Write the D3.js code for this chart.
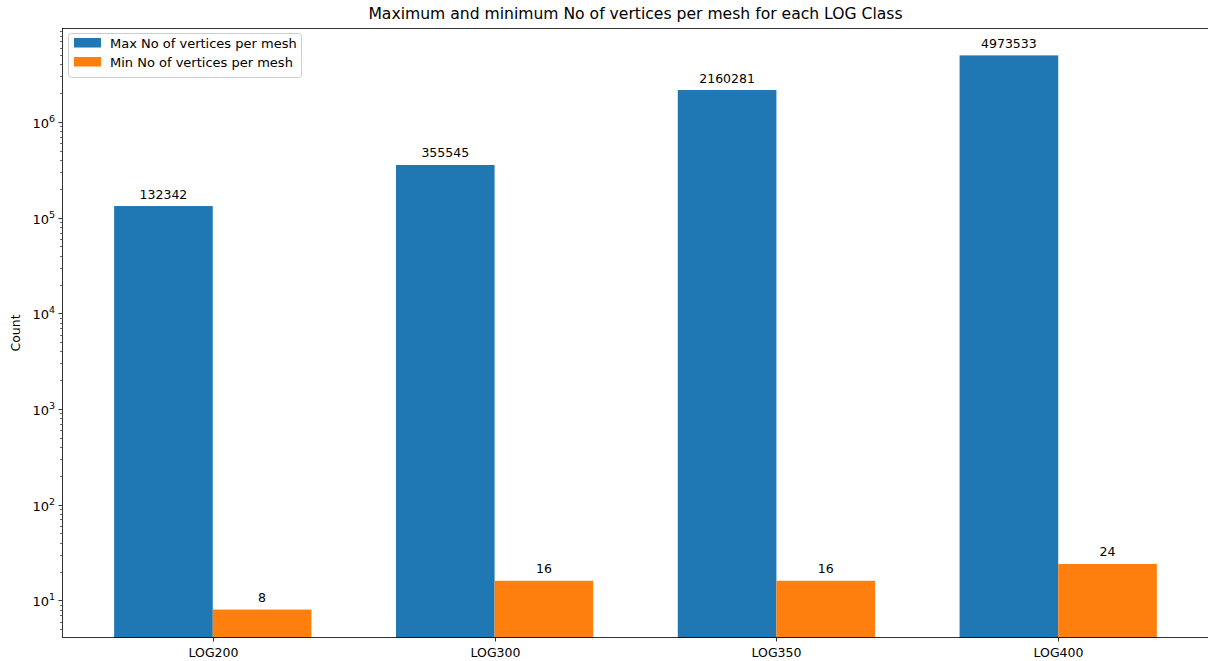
<!DOCTYPE html>
<html>
<head>
<meta charset="utf-8">
<script src="https://cdn.jsdelivr.net/npm/d3@7"></script>
<style>
  body { margin: 0; background: #fff; }
  svg { display: block; font-family: "DejaVu Sans", sans-serif; }
</style>
</head>
<body>
<div id="chart"></div>
<script>
// data
var categories = ["LOG200", "LOG300", "LOG350", "LOG400"];
var maxVertices = [132342, 355545, 2160281, 4973533];
var minVertices = [8, 16, 16, 24];
var seriesNames = ["Max No of vertices per mesh", "Min No of vertices per mesh"];
var decades = [1, 2, 3, 4, 5, 6];

var width = 1208, height = 661;
var axL = 62, axR = 1209, axT = 28, axB = 638;
var barW = 0.35;

var svg = d3.select("#chart").append("svg")
  .attr("width", width).attr("height", height);

var x = d3.scaleLinear().domain([-0.535, 3.535]).range([axL, axR]);
var y = d3.scaleLog().domain([Math.pow(10, 0.606), Math.pow(10, 6.983)]).range([axB, axT]);

var plot = svg.append("g");
plot.append("clipPath").attr("id", "clip")
  .append("rect").attr("x", axL).attr("y", axT).attr("width", axR - axL).attr("height", axB - axT);

var bars = plot.append("g").attr("clip-path", "url(#clip)");
var series = [
  { name: seriesNames[0], values: maxVertices, off: -barW / 2, color: "#1f77b4" },
  { name: seriesNames[1], values: minVertices, off: barW / 2, color: "#ff7f0e" }
];

series.forEach(function(s) {
  bars.selectAll(null).data(s.values).enter().append("rect")
    .attr("x", function(d, i) { return x(i + s.off - barW / 2); })
    .attr("width", x(barW) - x(0))
    .attr("y", function(d) { return y(d); })
    .attr("height", function(d) { return axB - y(d); })
    .attr("fill", s.color);

  plot.selectAll(null).data(s.values).enter().append("text")
    .attr("x", function(d, i) { return x(i + s.off); })
    .attr("y", function(d) { return y(d) - 7.5; })
    .attr("text-anchor", "middle")
    .attr("font-size", "12.5px")
    .attr("fill", "#000")
    .text(function(d) { return d; });
});

// y ticks: minor
var minors = [];
for (var e = 0; e <= 6; e++) {
  for (var m = 2; m <= 9; m++) {
    var v = m * Math.pow(10, e);
    if (v >= y.domain()[0] && v <= y.domain()[1]) minors.push(v);
  }
}
plot.selectAll(".minor").data(minors).enter().append("line")
  .attr("x1", axL - 2).attr("x2", axL)
  .attr("y1", function(d) { return Math.round(y(d)) + 0.5; })
  .attr("y2", function(d) { return Math.round(y(d)) + 0.5; })
  .attr("stroke", "#000").attr("stroke-width", 0.6);

// y ticks: major
var major = plot.selectAll(".major").data(decades).enter().append("g")
  .attr("transform", function(d) { return "translate(0," + (Math.round(y(Math.pow(10, d))) + 0.5) + ")"; });
major.append("line").attr("x1", axL - 3.5).attr("x2", axL).attr("stroke", "#000").attr("stroke-width", 0.8);
var lbl = major.append("text")
  .attr("x", axL - 7).attr("y", 5)
  .attr("text-anchor", "end")
  .attr("font-size", "13px").attr("fill", "#000");
lbl.append("tspan").text("10");
lbl.append("tspan").attr("dy", -6).attr("font-size", "9.5px").text(function(d) { return d; });

// x ticks
var xt = plot.selectAll(".xt").data(categories).enter().append("g")
  .attr("transform", function(d, i) { return "translate(" + (Math.round(x(i)) + 0.5) + "," + axB + ")"; });
xt.append("line").attr("y1", 0).attr("y2", 3.5).attr("stroke", "#000").attr("stroke-width", 0.8);
xt.append("text").attr("y", 19).attr("text-anchor", "middle")
  .attr("font-size", "12.5px").attr("fill", "#000").text(function(d) { return d; });

// spines
plot.append("rect")
  .attr("x", axL + 0.5).attr("y", axT + 0.5)
  .attr("width", axR - axL - 1).attr("height", axB - axT - 1)
  .attr("fill", "none").attr("stroke", "#000").attr("stroke-width", 0.8);

// title and axis label
svg.append("text")
  .attr("x", (axL + axR) / 2).attr("y", 19)
  .attr("text-anchor", "middle").attr("font-size", "15.6px").attr("fill", "#000")
  .text("Maximum and minimum No of vertices per mesh for each LOG Class");

svg.append("text")
  .attr("transform", "translate(20," + ((axT + axB) / 2) + ") rotate(-90)")
  .attr("text-anchor", "middle").attr("font-size", "12.5px").attr("fill", "#000")
  .text("Count");

// legend
var lg = svg.append("g").attr("transform", "translate(68,33)");
lg.append("rect").attr("x", 0.5).attr("y", 0.5).attr("width", 233).attr("height", 44)
  .attr("rx", 3).attr("fill", "#fff").attr("fill-opacity", 0.8).attr("stroke", "#ccc");
series.forEach(function(s, i) {
  lg.append("rect").attr("x", 6).attr("y", 5 + i * 19).attr("width", 27).attr("height", 9.5).attr("fill", s.color);
  lg.append("text").attr("x", 42).attr("y", 15 + i * 19)
    .attr("font-size", "13px").attr("fill", "#000").text(s.name);
});
</script>
</body>
</html>
